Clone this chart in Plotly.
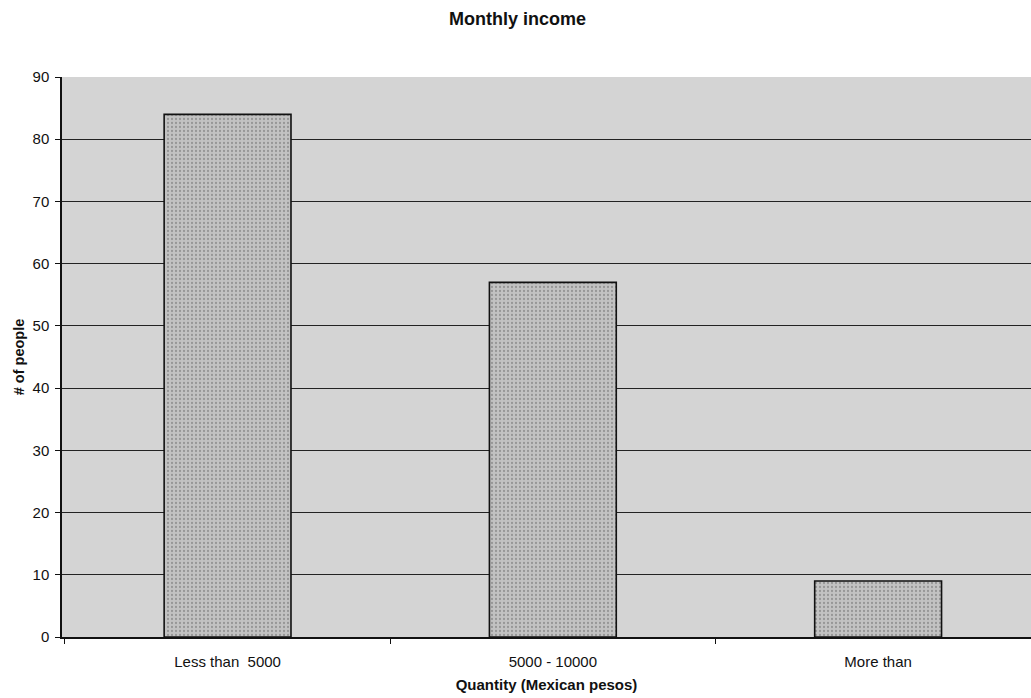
import plotly.graph_objects as go

# Survey data: monthly income brackets
categories = ["Less than  5000", "5000 - 10000", "More than"]
people = [84, 57, 9]
y_ticks = [0, 10, 20, 30, 40, 50, 60, 70, 80, 90]

font_family = "Liberation Sans, Arial, sans-serif"

fig = go.Figure()
fig.add_trace(go.Bar(
    x=categories,
    y=people,
    width=0.39,
    marker=dict(
        color="#bdbdbd",
        line=dict(color="#111111", width=1.6),
        pattern=dict(shape=".", fgcolor="#6a6a6a", bgcolor="#c2c2c2", size=4, solidity=0.25),
    ),
    showlegend=False,
))

fig.update_layout(
    width=1031,
    height=698,
    margin=dict(l=62, r=0, t=77, b=61),
    paper_bgcolor="white",
    plot_bgcolor="#d4d4d4",
    font=dict(family=font_family, size=14, color="#111111"),
    title=dict(
        text="<b>Monthly income</b>",
        x=0.502, xanchor="center", y=0.973, yanchor="middle",
        font=dict(size=18, family=font_family, color="#111111"),
    ),
)

fig.update_xaxes(
    type="category",
    range=[-0.509, 2.47],
    showline=True, linecolor="#111111", linewidth=1.5,
    showgrid=False,
    ticks="outside", tickson="boundaries", ticklen=5, tickcolor="#111111",
    ticklabelstandoff=10,
    tickfont=dict(size=15, family=font_family),
    title=dict(text="<b>Quantity (Mexican pesos)</b>", font=dict(size=15, family=font_family), standoff=11),
)

fig.update_yaxes(
    range=[0, 90],
    tickvals=y_ticks,
    showline=True, linecolor="#111111", linewidth=1.5,
    showgrid=True, gridcolor="#222222", gridwidth=1.2,
    ticks="outside", ticklen=5, tickcolor="#111111",
    ticklabelstandoff=3,
    tickfont=dict(size=15, family=font_family),
    zeroline=False,
    title=dict(text="<b># of people</b>", font=dict(size=14.5, family=font_family), standoff=4),
)

fig.write_html("out.html")
